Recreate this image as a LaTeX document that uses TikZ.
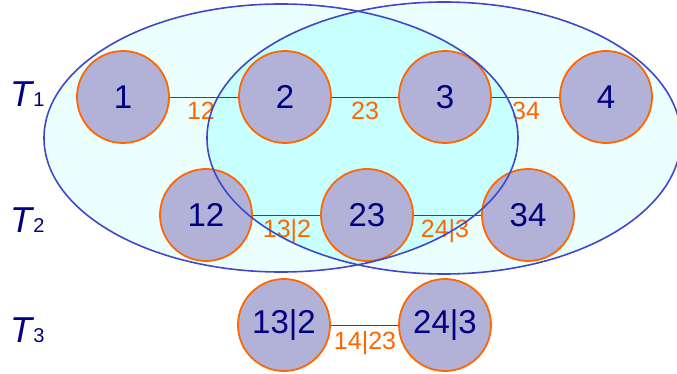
\documentclass[tikz,border=0pt]{standalone}
\usepackage{fontspec}
\setmainfont{Liberation Sans}
\definecolor{cfill}{RGB}{178,178,216}
\definecolor{corange}{RGB}{255,102,0}
\definecolor{cnavy}{RGB}{0,0,128}
\definecolor{cblue}{RGB}{64,72,200}
\definecolor{cedge}{RGB}{60,60,150}
\definecolor{csingle}{RGB}{236,255,255}
\definecolor{cboth}{RGB}{200,255,255}
\begin{document}
\begin{tikzpicture}[x=1pt,y=-1pt,
  vert/.style={circle,minimum size=92pt,inner sep=0pt,fill=cfill,draw=corange,line width=1.8pt,text=cnavy,font=\fontsize{33}{33}\selectfont},
  elab/.style={text=corange,font=\fontsize{25}{25}\selectfont,inner sep=0pt},
  tlab/.style={text=cnavy,font=\fontsize{36}{36}\selectfont,inner sep=0pt,anchor=base west},
  edge/.style={draw=cedge,line width=0.8pt},
  ellline/.style={draw=cblue,line width=1.6pt}]
\useasboundingbox (0,0) rectangle (677,374);
% ellipse fills
\fill[csingle] (281,138) ellipse [x radius=237, y radius=134];
\fill[csingle] (444,138) ellipse [x radius=237, y radius=136];
\begin{scope}
\clip (281,138) ellipse [x radius=237, y radius=134];
\fill[cboth] (444,138) ellipse [x radius=237, y radius=136];
\end{scope}
% nodes
\node[vert] (n1) at (123,97) {1};
\node[vert] (n2) at (285,97) {2};
\node[vert] (n3) at (445,97) {3};
\node[vert] (n4) at (606,97) {4};
\node[vert] (n12) at (206,215) {12};
\node[vert] (n23) at (367,215) {23};
\node[vert] (n34) at (528,215) {34};
\node[vert] (n132) at (284,325) {13|2};
\node[vert] (n243) at (445,325) {24|3};
% edges
\draw[edge] (n1) -- (n2);
\draw[edge] (n2) -- (n3);
\draw[edge] (n3) -- (n4);
\draw[edge] (n12) -- (n23);
\draw[edge] (n23) -- (n34);
\draw[edge] (n132) -- (n243);
% edge labels
\node[elab] (l12) at (201,111) {12};
\node[elab] (l23) at (365,111) {23};
\node[elab] (l34) at (526,111) {34};
\node[elab] (l132) at (287,231) {13|2};
\node[elab] (l243) at (445,231) {24|3};
\node[elab] (l1423) at (365,343) {14|23};
% row labels
\node[tlab] (t1) at (10,107) {\textit{T}\kern-1pt{\fontsize{20}{20}\selectfont 1}};
\node[tlab] (t2) at (10,232) {\textit{T}\kern-1pt{\fontsize{20}{20}\selectfont 2}};
\node[tlab] (t3) at (10,342) {\textit{T}\kern-1pt{\fontsize{20}{20}\selectfont 3}};
% ellipse outlines
\draw[ellline] (281,138) ellipse [x radius=237, y radius=134];
\draw[ellline] (444,138) ellipse [x radius=237, y radius=136];
\end{tikzpicture}
\end{document}
